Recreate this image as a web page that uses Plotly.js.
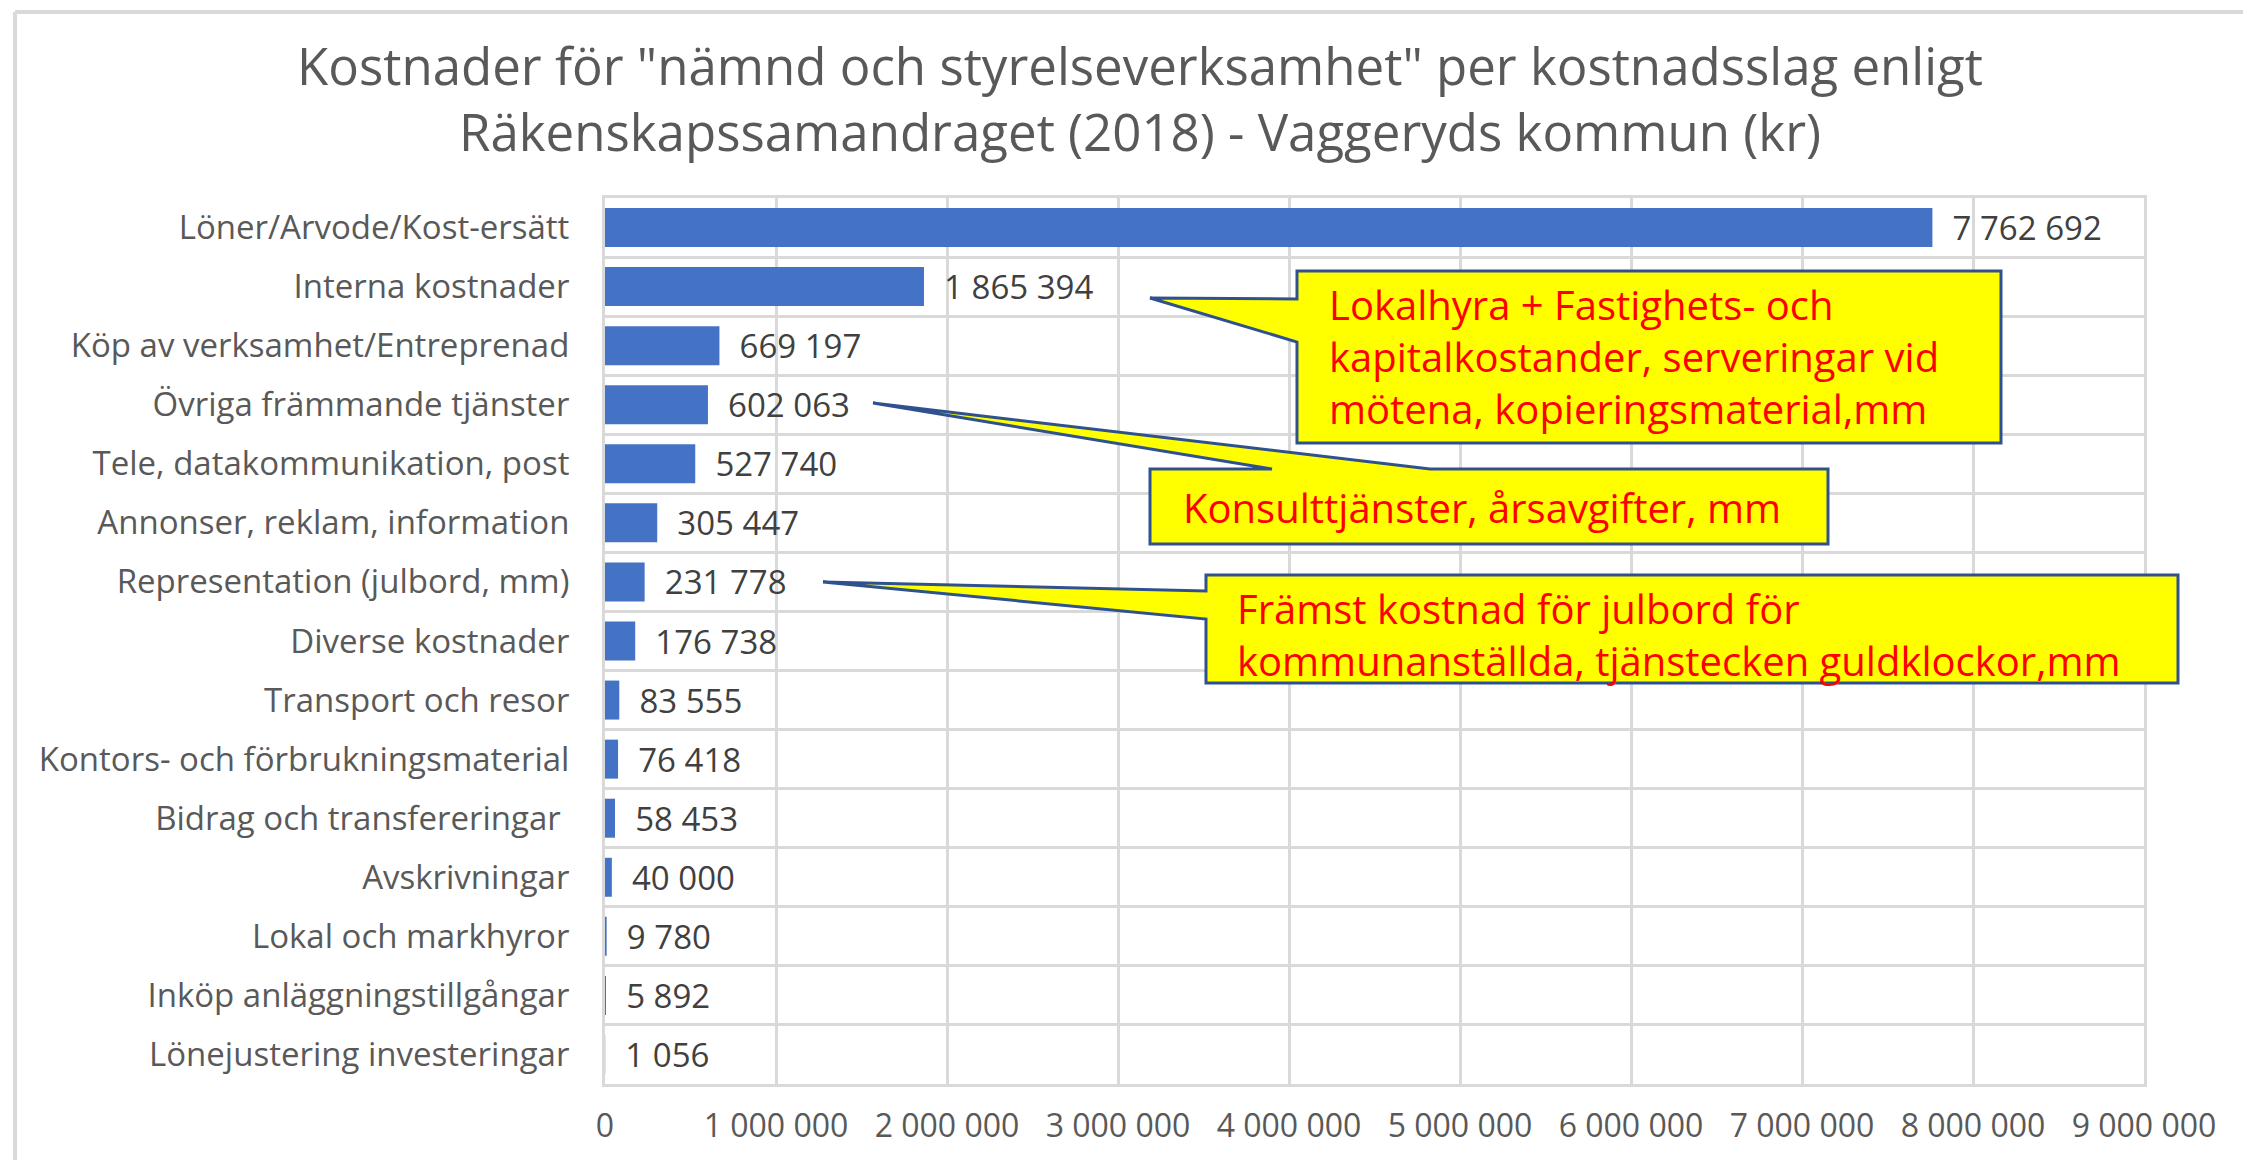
<!DOCTYPE html>
<html>
<head>
<meta charset="utf-8">
<script src="https://cdn.plot.ly/plotly-3.0.1.min.js"></script>
<style>html,body{margin:0;padding:0;background:#fff;}#chart{width:2243px;height:1160px;}</style>
</head>
<body>
<div id="chart"></div>
<script>
// ---- data ----
const categories = [
  'Löner/Arvode/Kost-ersätt',
  'Interna kostnader',
  'Köp av verksamhet/Entreprenad',
  'Övriga främmande tjänster',
  'Tele, datakommunikation, post',
  'Annonser, reklam, information',
  'Representation (julbord, mm)',
  'Diverse kostnader',
  'Transport och resor',
  'Kontors- och förbrukningsmaterial',
  'Bidrag och transfereringar ',
  'Avskrivningar',
  'Lokal och markhyror',
  'Inköp anläggningstillgångar',
  'Lönejustering investeringar'
];
const values = [7762692, 1865394, 669197, 602063, 527740, 305447, 231778, 176738, 83555, 76418, 58453, 40000, 9780, 5892, 1056];
const xTickValues = [0, 1000000, 2000000, 3000000, 4000000, 5000000, 6000000, 7000000, 8000000, 9000000];
const titleLines = ['Kostnader för "nämnd och styrelseverksamhet" per kostnadsslag enligt', 'Räkenskapssamandraget (2018) - Vaggeryds kommun (kr)'];
const calloutTexts = [
  ['Lokalhyra + Fastighets- och', 'kapitalkostander, serveringar vid', 'mötena, kopieringsmaterial,mm'],
  ['Konsulttjänster, årsavgifter, mm'],
  ['Främst kostnad för julbord för', 'kommunanställda, tjänstecken guldklockor,mm']
];

// ---- layout geometry (pixels) ----
const W = 2243, H = 1160;
const M = {l: 605, r: 99, t: 198, b: 76};
const PW = W - M.l - M.r, PH = H - M.t - M.b;
const px = X => (X - M.l) / PW;
const py = Y => (H - M.b - Y) / PH;
const P = (X, Y) => px(X).toFixed(5) + ',' + py(Y).toFixed(5);

const FONT = '"Open Sans", "Noto Sans", sans-serif';
const GRID = '#d9d9d9';

function pathOf(pts) {
  return 'M' + pts.map(p => P(p[0], p[1])).join(' L') + ' Z';
}

const calloutStyle = {type: 'path', xref: 'paper', yref: 'paper', fillcolor: '#FFFF00',
  line: {color: '#2F528F', width: 3}, layer: 'above'};

const shapes = [
  // outer chart frame (top and left)
  {type: 'line', xref: 'paper', yref: 'paper', x0: px(15), x1: px(W + 10), y0: py(12), y1: py(12), line: {color: GRID, width: 4}},
  {type: 'line', xref: 'paper', yref: 'paper', x0: px(15), x1: px(15), y0: py(12), y1: py(H + 10), line: {color: GRID, width: 4}},
  // callout 1
  Object.assign({path: pathOf([[1297, 271], [2001, 271], [2001, 443], [1297, 443], [1297, 342], [1150, 298], [1297, 299]])}, calloutStyle),
  // callout 2
  Object.assign({path: pathOf([[1150, 469], [1272, 469], [873, 403], [1430, 469], [1828, 469], [1828, 544], [1150, 544]])}, calloutStyle),
  // callout 3
  Object.assign({path: pathOf([[1206, 575], [2178, 575], [2178, 683], [1206, 683], [1206, 619], [823, 582], [1206, 591]])}, calloutStyle)
];

const calloutFont = {family: FONT, size: 40, color: '#FF0000'};
const calloutPos = [[1327, 356], [1181, 507], [1235, 634]];
const annotations = calloutTexts.map((lines, i) => ({
  xref: 'paper', yref: 'paper', x: px(calloutPos[i][0]), y: py(calloutPos[i][1]),
  xanchor: 'left', yanchor: 'middle', align: 'left', showarrow: false,
  text: lines.join('<br>'), font: calloutFont
}));

const trace = {
  type: 'bar',
  orientation: 'h',
  y: categories,
  x: values,
  marker: {color: '#4472C4'},
  texttemplate: '\u00a0\u00a0%{x:,d}',
  textposition: 'outside',
  textfont: {family: FONT, size: 33, color: '#404040'},
  constraintext: 'none',
  cliponaxis: false,
  hoverinfo: 'none'
};

const layout = {
  width: W, height: H,
  margin: M,
  paper_bgcolor: '#ffffff',
  plot_bgcolor: '#ffffff',
  separators: ', ',
  showlegend: false,
  bargap: 0.34,
  title: {
    text: titleLines.join('<br>'),
    font: {family: FONT, size: 51, color: '#595959'},
    xref: 'paper', x: px(1140), xanchor: 'center',
    yref: 'container', y: 1 - 85 / H, yanchor: 'middle'
  },
  xaxis: {
    range: [0, 9000000],
    tickvals: xTickValues,
    tickformat: ',d',
    showgrid: true, gridcolor: GRID, gridwidth: 3,
    zeroline: false,
    showline: true, mirror: true, linecolor: GRID, linewidth: 3,
    ticks: '',
    ticklabelstandoff: 12,
    tickfont: {family: FONT, size: 32, color: '#595959'},
    fixedrange: true
  },
  yaxis: {
    type: 'category',
    autorange: 'reversed',
    tickson: 'boundaries',
    showgrid: true, gridcolor: GRID, gridwidth: 3,
    showline: true, mirror: true, linecolor: GRID, linewidth: 3,
    ticks: '',
    ticklabelstandoff: 26,
    tickfont: {family: FONT, size: 33, color: '#595959'},
    fixedrange: true
  },
  shapes: shapes,
  annotations: annotations
};

Plotly.newPlot('chart', [trace], layout, {displayModeBar: false, staticPlot: true});
</script>
</body>
</html>
